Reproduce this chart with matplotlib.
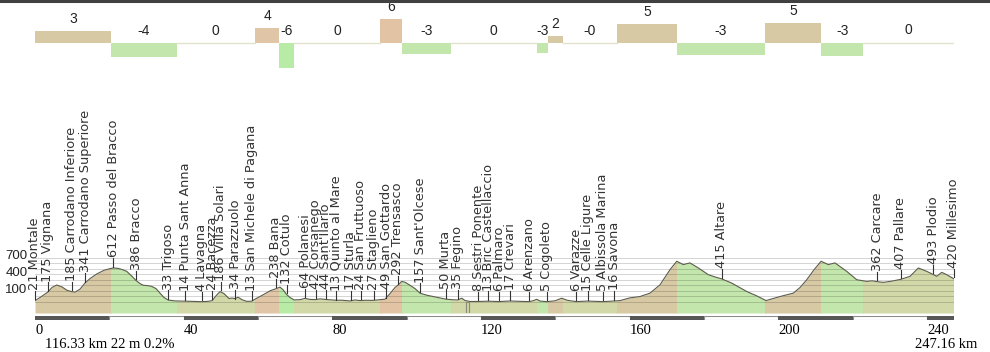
import numpy as np
import matplotlib
matplotlib.use("Agg")
import matplotlib.pyplot as plt
from matplotlib.patches import Rectangle
from matplotlib.lines import Line2D

# profile (km, m)
prof_km = [0.0, 1.35, 3.42, 4.57, 5.84, 7.27, 8.61, 9.88, 10.76, 12.11, 13.46, 14.80,
           16.60, 18.57, 20.18, 21.07, 22.34, 23.41, 24.68, 25.83, 27.18, 28.26, 29.14,
           30.14, 31.40, 32.56, 33.64, 34.71, 35.87, 37.67, 40.37, 42.25, 44.86, 46.56,
           47.71, 48.71, 49.78, 50.86, 52.21, 53.01, 53.82, 54.63, 55.71, 56.97, 58.32,
           59.47, 61.36, 63.24, 64.85, 65.93, 66.74, 67.73, 68.62, 69.70, 71.31, 72.66,
           74.00, 75.54, 76.70, 78.23, 79.39, 80.92, 82.62, 84.77, 86.11, 87.46, 89.07,
           90.88, 92.84, 94.19, 95.53, 96.88, 97.50, 98.68, 99.57, 100.91, 102.26, 103.61,
           105.49, 107.10, 108.99, 110.52, 112.22, 113.75, 114.83, 115.72, 117.06, 119.29,
           121.99, 124.87, 127.83, 130.52, 132.94, 134.02, 135.01, 135.90, 137.70, 139.94,
           141.74, 143.16, 145.59, 148.74, 150.70, 152.77, 155.81, 157.43, 160.12, 162.81,
           165.50, 168.19, 170.88, 172.69, 174.46, 176.26, 178.50, 181.19, 182.99, 184.79,
           187.49, 191.52, 194.21, 196.72, 200.48, 204.06, 205.87, 207.67, 209.63, 211.52,
           213.48, 215.28, 218.43, 221.12, 223.81, 225.24, 226.67, 228.28, 230.62, 232.96,
           235.47, 237.70, 239.96, 241.74, 242.65, 244.00, 245.34, 247.16]
prof_elev = [21, 80, 175, 260, 305, 270, 210, 185, 176, 230, 341, 420,
             503, 570, 600, 612, 605, 585, 551, 480, 386, 330, 300,
             295, 280, 240, 158, 80, 33, 18, 14, 10, 4, 10,
             24, 110, 186, 150, 60, 70, 60, 85, 40, 10, 13,
             60, 127, 200, 238, 267, 220, 132, 80, 36, 40, 64,
             45, 42, 55, 44, 38, 30, 30, 17, 35, 24, 30,
             27, 40, 49, 150, 260, 292, 369, 355, 300, 240, 157,
             120, 97, 70, 50, 40, 35, 67, 25, 8, 8,
             13, 6, 17, 10, 6, 20, 47, 15, 5, 20,
             67, 30, 6, 15, 10, 5, 16, 24, 73, 97,
             158, 309, 582, 733, 673, 703, 612, 491, 450, 415,
             339, 188, 109, 24, 97, 158, 260, 400, 580, 733,
             673, 703, 551, 400, 370, 380, 365, 352, 375, 407,
             461, 612, 551, 493, 461, 533, 491, 420]

# places along the route
place_km = [0.0, 3.42, 9.88, 13.46, 21.07, 27.18, 35.87, 40.37, 44.86, 47.71, 49.92,
            53.82, 58.32, 64.85, 67.73, 72.66, 75.54, 78.23, 81.0, 84.9, 87.6, 91.1,
            94.46, 97.55, 103.61, 110.52, 113.75, 119.29, 121.99, 124.87, 127.83,
            132.94, 137.70, 145.59, 148.74, 152.77, 155.81, 184.79, 226.67, 232.96,
            241.74, 247.16]
place_elev = [21, 175, 185, 341, 612, 386, 33, 14, 4, 24, 186, 34, 13, 238, 132, 64,
              42, 44, 13, 17, 24, 27, 49, 292, 157, 50, 35, 8, 13, 6, 17, 6, 5, 6, 15,
              5, 16, 415, 362, 407, 493, 420]
place_name = ["Montale", "Vignana", "Carrodano Inferiore", "Carrodano Superiore",
              "Passo del Bracco", "Bracco", "Trigoso", "Punta Sant Anna", "Lavagna",
              "Bacezza", "Villa Solari", "Parazzuolo", "San Michele di Pagana", "Bana",
              "Cotulo", "Polanesi", "Corsanego", "Sant'Ilario", "Quinto al Mare", "Sturla",
              "San Fruttuoso", "Staglieno", "San Gottardo", "Trensasco", "Sant'Olcese",
              "Murta", "Fegino", "Sestri Ponente", "Bric Castellaccio", "Palmaro",
              "Crevari", "Arenzano", "Cogoleto", "Varazze", "Celle Ligure",
              "Albissola Marina", "Savona", "Altare", "Carcare", "Pallare", "Plodio",
              "Millesimo"]

# gradient segments
seg_edges = [0, 20.45, 38.1, 59.2, 65.7, 69.7, 92.8, 98.7, 111.9, 135.0, 138.1,
             142.0, 156.7, 172.7, 196.4, 211.5, 222.9, 247.16]
seg_grade = [3.0, -3.6, 0.0, 3.85, -6.4, 0.0, 6.1, -2.8, 0.0, -2.6, 1.7, -0.2,
             4.7, -3.15, 4.95, -3.4, 0.1]
seg_label = ['3', '-4', '0', '4', '-6', '0', '6', '-3', '0', '-3', '2', '-0',
             '5', '-3', '5', '-3', '0']

grid_levels = list(range(0, 900, 100))
ylabel_levels = [700, 400, 100]
dist_ticks = [0, 40, 80, 120, 160, 200, 240]
total_km = 247.16
cursor_km = 116.33
info_text = "116.33 km 22 m 0.2%"


def grade_color(g, fill=False):
    if g >= 5.5:
        return '#e2c4a4'
    if g >= 3.5 and g < 4.5:
        return '#e0c6a6'
    if g > 0.5:
        return '#d8c9a5'
    if g <= -5:
        return '#b8eba6'
    if g < -0.5:
        return '#c2e6ab'
    return '#d3d8a9' if fill else '#e2e2cc'


W, H = 990, 352
fig = plt.figure(figsize=(W / 100, H / 100), dpi=100)
fig.patch.set_facecolor('white')
fig.add_artist(Line2D([0, 1], [1 - 1 / H, 1 - 1 / H], transform=fig.transFigure,
                      color='#404040', lw=2.2))

x0, x1 = 35, 953.5

# --- grade bars
axg = fig.add_axes([x0 / W, 278 / H, (x1 - x0) / W, 62.4 / H])
axg.set_xlim(0, total_km)
axg.set_ylim(-8, 8)
axg.axis('off')
for i, g in enumerate(seg_grade):
    a, b = seg_edges[i], seg_edges[i + 1]
    if abs(g) >= 0.5:
        axg.bar(a, g, width=b - a, align='edge', color=grade_color(g), lw=0)
    else:
        axg.plot([a, b], [0, 0], color=grade_color(g), lw=1)
    top = max(g, 0)
    axg.annotate(seg_label[i], ((a + b) / 2, top), xytext=(0, 12),
                 textcoords='offset pixels', ha='center', va='center',
                 fontsize=10, family='Liberation Sans', color='#222222',
                 annotation_clip=False)

# --- profile
ax = fig.add_axes([x0 / W, 39 / H, (x1 - x0) / W, 61 / H])
ax.set_xlim(0, total_km)
ax.set_ylim(-200, 900)
ax.axis('off')
for i, g in enumerate(seg_grade):
    a, b = seg_edges[i], seg_edges[i + 1]
    poly = ax.fill_between(prof_km, -200, prof_elev, color=grade_color(g, True), lw=0)
    clip = Rectangle((a, -200), b - a, 1200, transform=ax.transData)
    poly.set_clip_path(clip)
for lv in grid_levels:
    ax.axhline(lv, color='k', alpha=0.17, lw=0.7, zorder=2)
ax.plot(prof_km, prof_elev, color='#5c5c4c', lw=0.8, zorder=3)
ax.add_patch(Rectangle((cursor_km - 0.4, -200), 0.8, 200, fill=False,
                       ec='#8a8a78', lw=0.8, zorder=4))
for lv in ylabel_levels:
    ax.text(-2.0, lv + 15, str(lv), ha='right', va='bottom', fontsize=9.5,
            family='Liberation Sans', color='#222222', clip_on=False)

for km, el, nm in zip(place_km, place_elev, place_name):
    ax.plot([km, km], [el + 25, el + 175], color='#333333', lw=0.8, zorder=4,
            clip_on=False)
    ax.text(km, el + 190, f"{el} {nm}", rotation=90, ha='center', va='bottom',
            fontsize=9.3, family='DejaVu Sans', color='#333333', clip_on=False)

# --- distance bar
axd = fig.add_axes([x0 / W, 32 / H, (x1 - x0) / W, 4 / H])
axd.set_xlim(0, total_km)
axd.set_ylim(0, 1)
for i, a in enumerate(np.arange(0, total_km, 20)):
    b = min(a + 20, total_km)
    if i % 2 == 0:
        axd.add_patch(Rectangle((a, 0), b - a, 1, color='#575757', lw=0))
    else:
        axd.add_patch(Rectangle((a, 0.08), b - a, 0.84, fc='white', ec='#8c8c8c', lw=0.8))
for s in axd.spines.values():
    s.set_visible(False)
axd.set_yticks([])
axd.set_xticks(dist_ticks)
axd.set_xticklabels([str(t) for t in dist_ticks], ha='left', fontsize=10.5,
                    family='Liberation Serif')
axd.tick_params(axis='x', length=0, pad=3)

fig.text(45 / W, 1 - 344 / H, info_text, ha='left', va='center', fontsize=10.5,
         family='Liberation Serif')
fig.text(977 / W, 1 - 344 / H, f"{total_km:.2f} km", ha='right', va='center',
         fontsize=10.5, family='Liberation Serif')

fig.savefig('out.png', dpi=100)
